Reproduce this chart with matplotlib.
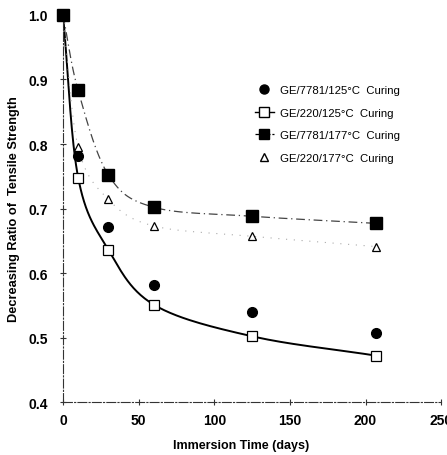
import numpy as np
import matplotlib.pyplot as plt
from matplotlib.lines import Line2D

# immersion time (days)
days = [0, 10, 30, 60, 125, 207]

# decreasing ratio of tensile strength
ge7781_125 = [1.0, 0.782, 0.671, 0.581, 0.539, 0.507]
ge220_125 = [1.0, 0.748, 0.636, 0.551, 0.502, 0.472]
ge7781_177 = [1.0, 0.883, 0.752, 0.702, 0.688, 0.677]
ge220_177 = [1.0, 0.795, 0.714, 0.673, 0.657, 0.641]

labels = ["GE/7781/125\u00b0C  Curing", "GE/220/125\u00b0C  Curing",
          "GE/7781/177\u00b0C  Curing", "GE/220/177\u00b0C  Curing"]


def smooth(xs, ys, n=30):
    # catmull-rom style smoothed line, like the spreadsheet "smoothed line" option
    p = np.column_stack([xs, ys]).astype(float)
    p = np.vstack([2 * p[0] - p[1], p, 2 * p[-1] - p[-2]])
    out = []
    t = np.linspace(0, 1, n)[:, None]
    for i in range(1, len(p) - 2):
        p0, p1, p2, p3 = p[i - 1], p[i], p[i + 1], p[i + 2]
        seg = 0.5 * ((2 * p1) + (-p0 + p2) * t + (2 * p0 - 5 * p1 + 4 * p2 - p3) * t ** 2
                     + (-p0 + 3 * p1 - 3 * p2 + p3) * t ** 3)
        out.append(seg)
    out = np.vstack(out)
    return out[:, 0], out[:, 1]


plt.rcParams['font.family'] = ['Liberation Sans', 'DejaVu Sans']

fig = plt.figure(figsize=(4.47, 4.56), dpi=100)
ax = fig.add_axes([0.141, 0.116, 0.846, 0.849])

sx, sy = smooth(days, ge220_125)
ax.plot(sx, sy, color='black', lw=1.4, zorder=2)
sx, sy = smooth(days, ge7781_177)
ax.plot(sx, sy, color='#444444', lw=0.9, ls=(0, (7, 3, 1, 3)), zorder=2)
sx, sy = smooth(days, ge220_177)
ax.plot(sx, sy, color='#aaaaaa', lw=0.8, ls=(0, (1, 6)), zorder=2)

ax.plot(days[1:], ge7781_125[1:], 'o', color='black', ms=7, clip_on=False, zorder=3)
ax.plot(days[1:], ge220_125[1:], 's', mfc='white', mec='black', mew=0.9, ms=7,
        clip_on=False, zorder=3)
ax.plot(days, ge7781_177, 's', color='black', ms=8.5, clip_on=False, zorder=4)
ax.plot(days[1:], ge220_177[1:], '^', mfc='white', mec='black', mew=0.9, ms=6,
        clip_on=False, zorder=3)

ax.set_xlim(0, 250)
ax.set_ylim(0.4, 1.0)
ax.set_xticks([0, 50, 100, 150, 200, 250])
ax.set_yticks([0.4, 0.5, 0.6, 0.7, 0.8, 0.9, 1.0])
ax.set_yticklabels(['0.4', '0.5', '0.6', '0.7', '0.8', '0.9', '1.0'])

for s in ['top', 'right']:
    ax.spines[s].set_visible(False)
for s in ['left', 'bottom']:
    ax.spines[s].set_linestyle((0, (8, 2, 1, 2)))
    ax.spines[s].set_linewidth(0.8)
    ax.spines[s].set_color('#333333')

ax.tick_params(direction='inout', length=4, width=0.8, color='#333333')
ax.tick_params(axis='y', pad=9)
ax.tick_params(axis='x', pad=6)
for lab in ax.get_xticklabels() + ax.get_yticklabels():
    lab.set_fontweight('bold')
    lab.set_fontsize(10)

ax.set_xlabel('Immersion Time (days)', fontsize=9, fontweight='bold')
ax.xaxis.set_label_coords(0.47, -0.095)
ax.set_ylabel('Decreasing Ratio of  Tensile Strength', fontsize=9.2, fontweight='bold')
ax.yaxis.set_label_coords(-0.115, 0.5)

handles = [
    Line2D([], [], marker='o', color='black', ls='none', ms=6.5),
    Line2D([], [], marker='s', mfc='white', mec='black', color='black', lw=1.0, ms=6.5),
    Line2D([], [], marker='s', color='black', lw=0.9, ls=(0, (3, 1.5)), ms=6.5),
    Line2D([], [], marker='^', mfc='white', mec='black', ls='none', ms=5.5),
]
ax.legend(handles, labels, loc='upper left', bbox_to_anchor=(0.48, 0.845), frameon=False,
          fontsize=8.2, labelspacing=1.1, handlelength=1.7, handletextpad=0.5)

fig.savefig('out.png', dpi=100)
